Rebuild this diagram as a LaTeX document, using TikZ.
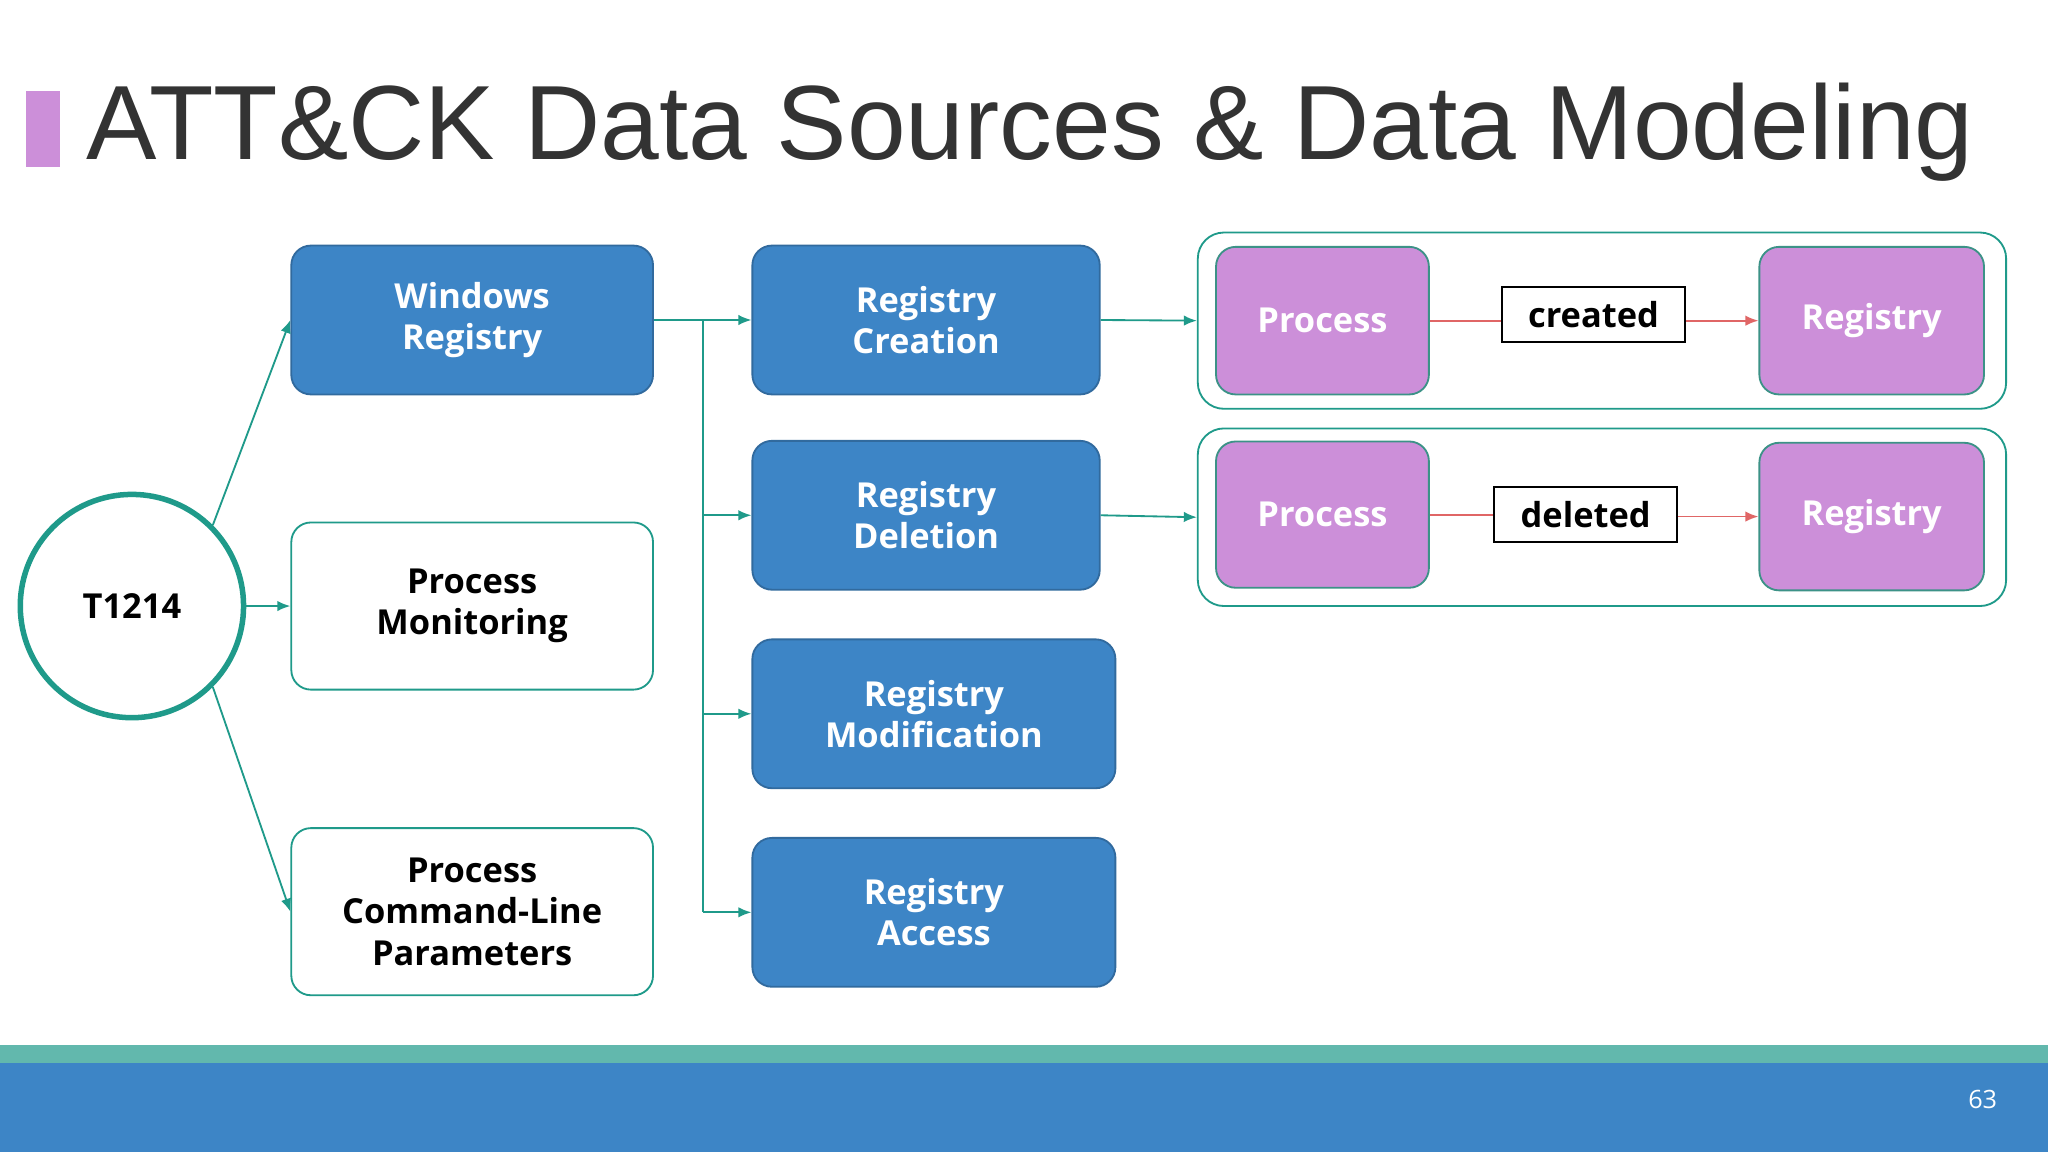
\documentclass[tikz,border=0pt]{standalone}
\usepackage{fontspec}
\setmainfont{Open Sans}
\newfontfamily\titlefont{Liberation Sans}
\usetikzlibrary{arrows.meta}
\definecolor{tealc}{HTML}{1F9A8A}
\definecolor{bluec}{HTML}{3D85C6}
\definecolor{purc}{HTML}{CC8FD9}
\definecolor{redc}{HTML}{E06666}
\begin{document}
\begin{tikzpicture}[x=0.02cm,y=-0.02cm,
  box/.style={rounded corners=0.3cm,align=center,font=\fontsize{15}{18}\selectfont\bfseries,inner sep=0pt},
  bbox/.style={box,fill=bluec,draw=bluec!80!black,line width=0.8pt,text=white},
  wbox/.style={box,fill=white,draw=tealc,line width=0.8pt,text=black},
  pbox/.style={box,fill=purc,draw=tealc!70!gray,line width=0.8pt,text=white},
  cont/.style={rounded corners=0.4cm,draw=tealc,line width=0.8pt},
  lbl/.style={draw=black,line width=0.8pt,fill=white,font=\fontsize{15}{18}\selectfont\bfseries,inner sep=0pt},
  arr/.style={-{Latex[length=0.2cm,width=0.16cm]},tealc,line width=0.8pt},
  rarr/.style={-{Latex[length=0.2cm,width=0.16cm]},redc,line width=0.8pt}]
\useasboundingbox (0,0) rectangle (1568,882);
\fill[white] (0,0) rectangle (1568,882);
\fill[purc] (20,70) rectangle (46,128);
\node[anchor=base west,inner sep=0pt,text=black!80,font=\titlefont\fontsize{46}{50}\selectfont] (title) at (66,122) {ATT\&CK Data Sources \& Data Modeling};
\fill[tealc!70!white] (0,800) rectangle (1568,814);
\fill[bluec] (0,814) rectangle (1568,882);
\node[text=white,font=\fontsize{11}{13}\selectfont] (pg) at (1518,842) {63};
% circle
\node[circle,draw=tealc,line width=2.4pt,minimum size=3.42cm,font=\fontsize{15}{18}\selectfont\bfseries] (t) at (101,464) {T1214};
% column 1
\node[bbox,minimum width=5.54cm,minimum height=2.28cm] (wr) at (361.5,245) {Windows\\Registry};
\node[wbox,minimum width=5.54cm,minimum height=2.56cm] (pm) at (361.5,464) {Process\\Monitoring};
\node[wbox,minimum width=5.54cm,minimum height=2.56cm] (pc) at (361.5,698) {Process\\Command-Line\\Parameters};
% column 2
\node[bbox,minimum width=5.32cm,minimum height=2.28cm] (rc) at (709,245) {Registry\\Creation};
\node[bbox,minimum width=5.32cm,minimum height=2.28cm] (rd) at (709,394.5) {Registry\\Deletion};
\node[bbox,minimum width=5.56cm,minimum height=2.28cm] (rm) at (715,546.5) {Registry\\Modification};
\node[bbox,minimum width=5.56cm,minimum height=2.28cm] (ra) at (715,698.5) {Registry\\Access};
% containers
\node[cont,minimum width=12.38cm,minimum height=2.7cm] (c1) at (1226.5,245.5) {};
\node[cont,minimum width=12.38cm,minimum height=2.72cm] (c2) at (1226.5,396) {};
\node[pbox,minimum width=3.26cm,minimum height=2.26cm] (p1) at (1012.5,245.5) {Process};
\node[pbox,minimum width=3.44cm,minimum height=2.26cm] (g1) at (1433,245.5) {Registry};
\node[pbox,minimum width=3.26cm,minimum height=2.24cm] (p2) at (1012.5,394) {Process};
\node[pbox,minimum width=3.44cm,minimum height=2.26cm] (g2) at (1433,395.5) {Registry};
\node[lbl,minimum width=2.8cm,minimum height=0.84cm] (l1) at (1220,241) {created};
\node[lbl,minimum width=2.8cm,minimum height=0.84cm] (l2) at (1214,394) {deleted};
% connectors
\draw[arr] (t.north east) -- (wr.west);
\draw[arr] (t.east) -- (pm.west);
\draw[arr] (t.south east) -- (pc.west);
\coordinate (tr) at (538,245);
\draw[arr] (wr.east) -- (rc.west);
\draw[tealc,line width=0.8pt] (tr) -- (538,698.5);
\draw[arr] (538,394.5) -- (rd.west);
\draw[arr] (538,546.5) -- (rm.west);
\draw[arr] (538,698.5) -- (ra.west);
\draw[arr] (rc.east) -- (c1.west);
\draw[arr] (rd.east) -- (c2.west);
\draw[redc,line width=0.8pt] (p1.east) -- (l1.west|-p1.east);
\draw[rarr] (l1.east|-g1.west) -- (g1.west);
\draw[redc,line width=0.8pt] (p2.east) -- (l2.west|-p2.east);
\draw[rarr] (l2.east|-g2.west) -- (g2.west);
\end{tikzpicture}
\end{document}
